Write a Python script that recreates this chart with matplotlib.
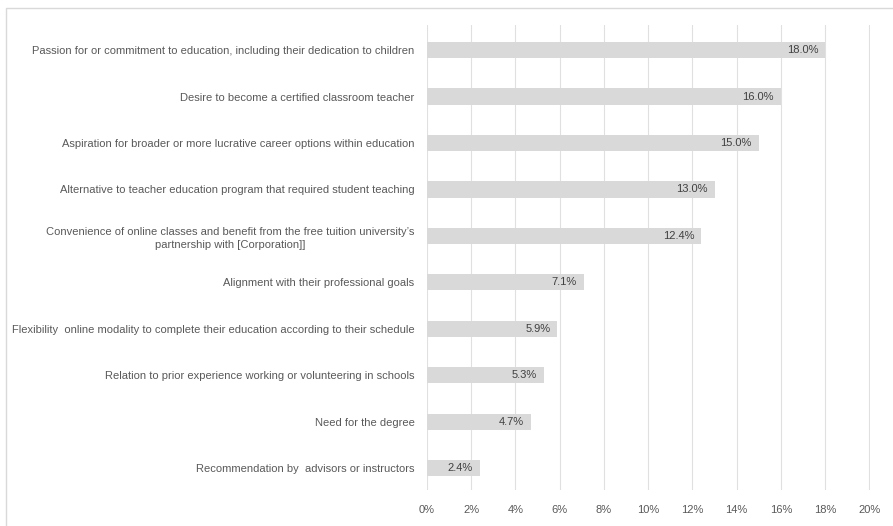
import matplotlib.pyplot as plt
from matplotlib.patches import Rectangle
from matplotlib.ticker import FuncFormatter

categories = [
    "Passion for or commitment to education, including their dedication to children",
    "Desire to become a certified classroom teacher",
    "Aspiration for broader or more lucrative career options within education",
    "Alternative to teacher education program that required student teaching",
    "Convenience of online classes and benefit from the free tuition university\u2019s\npartnership with [Corporation]]",
    "Alignment with their professional goals",
    "Flexibility  online modality to complete their education according to their schedule",
    "Relation to prior experience working or volunteering in schools",
    "Need for the degree",
    "Recommendation by  advisors or instructors",
]
values = [18.0, 16.0, 15.0, 13.0, 12.4, 7.1, 5.9, 5.3, 4.7, 2.4]
x_ticks = [0, 2, 4, 6, 8, 10, 12, 14, 16, 18, 20]

plt.rcParams['font.family'] = ['Liberation Sans Narrow', 'Liberation Sans', 'DejaVu Sans']

fig = plt.figure(figsize=(8.93, 5.26), dpi=100)
ax = fig.add_axes([427 / 893, 36 / 526, 443 / 893, 465 / 526])

pos = list(range(len(values)))
ax.barh(pos, values, height=0.35, color="#d9d9d9", zorder=2)

for y, v in zip(pos, values):
    ax.annotate(f"{v:.1f}%", (v, y), xytext=(-5, 0), textcoords="offset points",
                ha="right", va="center", fontsize=8, color="#404040", zorder=3)

ax.set_xlim(0, 20.03)
ax.set_ylim(9.47, -0.54)
ax.set_xticks(x_ticks)
ax.xaxis.set_major_formatter(FuncFormatter(lambda v, p: f"{v:.0f}%"))
ax.set_yticks(pos)
ax.set_yticklabels(categories, multialignment="center", linespacing=1.45)
ax.tick_params(axis="y", length=0, pad=9, labelsize=8, labelcolor="#595959")
ax.tick_params(axis="x", length=0, pad=11, labelsize=8, labelcolor="#595959")
ax.grid(axis="x", color="#e0e0e0", linewidth=0.8, zorder=0)
ax.set_axisbelow(True)
for s in ax.spines.values():
    s.set_visible(False)

# light chart frame
fig.add_artist(Rectangle((6 / 893, -0.1), 1.2, (526 - 8) / 526 + 0.1,
                         transform=fig.transFigure, fill=False,
                         edgecolor="#d9d9d9", linewidth=1))

fig.savefig("out.png", dpi=100)
